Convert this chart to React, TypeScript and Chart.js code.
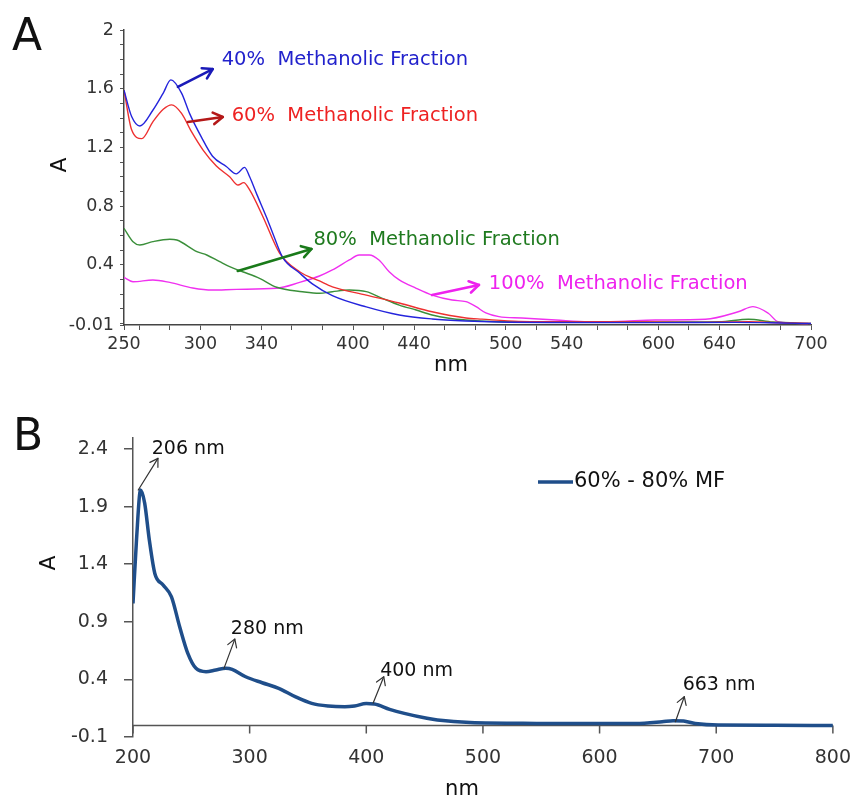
import React, { useEffect, useRef } from 'react';
import { Chart, registerables } from 'chart.js';

Chart.register(...registerables);

const FONT = '"DejaVu Sans", sans-serif';

// ---------- Panel A data ----------
const nm40 = [250, 255, 260.4, 269, 275.7, 280.7, 287.7, 293, 300.7, 308, 317, 323.6, 329, 332.3, 337, 343.2, 348, 353.8, 365, 373.4, 386.5, 408.7, 430.3, 451.8, 474, 495.6, 540, 600, 650, 680, 700];
const abs40 = [1.59, 1.41, 1.346, 1.455, 1.57, 1.66, 1.57, 1.43, 1.27, 1.14, 1.07, 1.02, 1.064, 1.0, 0.88, 0.728, 0.6, 0.453, 0.344, 0.27, 0.19, 0.113, 0.058, 0.031, 0.017, 0.01, 0.007, 0.006, 0.008, 0.004, 0.0];

const nm60 = [250, 255, 261.6, 269, 275.7, 281.2, 287.7, 294.2, 301.8, 310.5, 319.2, 324.7, 328.4, 332.3, 341, 351.9, 365, 378, 386.5, 408.7, 430.3, 451.8, 474, 484.5, 508.6, 561, 626, 659, 667, 680, 700];
const abs60 = [1.59, 1.32, 1.26, 1.376, 1.46, 1.49, 1.432, 1.307, 1.182, 1.073, 1.0, 0.944, 0.96, 0.91, 0.728, 0.48, 0.353, 0.29, 0.25, 0.194, 0.14, 0.08, 0.038, 0.03, 0.015, 0.012, 0.008, 0.012, 0.01, 0.005, 0.0];

const nm80 = [250, 255.9, 260.4, 268.9, 280, 284.6, 297.7, 304.2, 312.7, 319.2, 327.7, 338.8, 350, 366.9, 378, 386.5, 397.6, 408.7, 419.2, 430.3, 441.4, 451.8, 462.9, 474, 495.6, 540, 600, 640, 659, 675, 700];
const abs80 = [0.649, 0.558, 0.535, 0.558, 0.574, 0.569, 0.49, 0.467, 0.421, 0.387, 0.353, 0.308, 0.247, 0.217, 0.206, 0.217, 0.228, 0.217, 0.172, 0.126, 0.092, 0.058, 0.036, 0.024, 0.012, 0.01, 0.01, 0.012, 0.029, 0.01, 0.0];

const nm100 = [250, 255.9, 268.9, 280, 295, 308, 323.8, 350, 365, 378, 386.5, 397.6, 404, 410.7, 417, 423.7, 430.3, 441.4, 451.8, 464.9, 474, 480.6, 487, 495.6, 510.6, 532.8, 554.4, 574, 598, 630.8, 652.3, 662, 672, 678.5, 698];
const abs100 = [0.315, 0.285, 0.297, 0.28, 0.242, 0.228, 0.233, 0.24, 0.28, 0.324, 0.365, 0.433, 0.467, 0.467, 0.433, 0.353, 0.297, 0.24, 0.194, 0.16, 0.149, 0.115, 0.072, 0.047, 0.038, 0.024, 0.012, 0.015, 0.024, 0.029, 0.08, 0.115, 0.07, 0.012, 0.0];

const seriesNamesA = ['40%  Methanolic Fraction', '60%  Methanolic Fraction', '80%  Methanolic Fraction', '100%  Methanolic Fraction'];
const xLabelsA = [250, 300, 340, 400, 440, 500, 540, 600, 640, 700];
const xMinorA = [260, 280, 300, 320, 340, 360, 380, 400, 420, 440, 460, 480, 500, 520, 540, 560, 580, 600, 620, 640, 660, 680];
const yLabelsA = [-0.01, 0.4, 0.8, 1.2, 1.6, 2];

// ---------- Panel B data ----------
const nmB = [200, 203, 206.5, 210, 214, 218.7, 225.8, 232.9, 240, 247, 254, 262.6, 271, 279.6, 285, 296.6, 310.7, 324.9, 339, 353.2, 367.4, 381.6, 390, 400, 407, 420, 432.6, 452, 461, 489, 546, 600, 631, 653.6, 663, 672, 682, 701.7, 750, 800];
const absB = [1.06, 1.61, 2.044, 1.93, 1.61, 1.32, 1.22, 1.118, 0.857, 0.626, 0.496, 0.467, 0.482, 0.496, 0.487, 0.423, 0.371, 0.323, 0.25, 0.192, 0.169, 0.163, 0.17, 0.19, 0.186, 0.14, 0.105, 0.062, 0.047, 0.025, 0.018, 0.017, 0.018, 0.033, 0.042, 0.038, 0.018, 0.004, 0.002, 0.0];
const seriesNameB = '60% - 80% MF';
const peakLabelsB = ['206 nm', '280 nm', '400 nm', '663 nm'];
const xTicksB = [200, 300, 400, 500, 600, 700, 800];
const yTicksB = [-0.1, 0.4, 0.9, 1.4, 1.9, 2.4];

// ---------- styles / annotation anchors (data space) ----------
const lineColorsA = ['#2424dc', '#ee3030', '#3a8f3a', '#f030f0'];
const textColorsA = ['#2222cc', '#ee2222', '#1f7a1f', '#ee22ee'];
const arrowColorsA = ['#1a1ab8', '#b41818', '#1a7a1a', '#ee22ee'];
const annA = [
  { from: [285.3, 1.612], to: [308.1, 1.734], text: [314, 1.796] },
  { from: [291.8, 1.373], to: [314.7, 1.407], text: [320.5, 1.414] },
  { from: [324.5, 0.358], to: [372.8, 0.508], text: [374.1, 0.569] },
  { from: [451.8, 0.194], to: [482.5, 0.263], text: [489, 0.269] },
];
const annB = [
  { from: [204.5, 2.044], to: [221.4, 2.319], text: [216.1, 2.4] },
  { from: [278, 0.496], to: [287.3, 0.75], text: [283.9, 0.837] },
  { from: [405.9, 0.195], to: [415, 0.423], text: [411.9, 0.473] },
  { from: [665, 0.033], to: [672.6, 0.25], text: [671.2, 0.351] },
];

const W = 861;
const HA = 395;
const HB = 408;

function drawArrow(ctx: CanvasRenderingContext2D, x1: number, y1: number, x2: number, y2: number, color: string, width: number, head: number) {
  ctx.save();
  ctx.strokeStyle = color;
  ctx.lineWidth = width;
  ctx.lineCap = 'round';
  ctx.lineJoin = 'round';
  ctx.beginPath();
  ctx.moveTo(x1, y1);
  ctx.lineTo(x2, y2);
  ctx.stroke();
  const ang = Math.atan2(y2 - y1, x2 - x1);
  ctx.beginPath();
  ctx.moveTo(x2 - head * Math.cos(ang - 0.55), y2 - head * Math.sin(ang - 0.55));
  ctx.lineTo(x2, y2);
  ctx.lineTo(x2 - head * Math.cos(ang + 0.55), y2 - head * Math.sin(ang + 0.55));
  ctx.stroke();
  ctx.restore();
}

function near(list: number[], v: number) {
  return list.some((t) => Math.abs(t - v) < 1e-6);
}

function toPts(xs: number[], ys: number[]) {
  return xs.map((x, i) => ({ x, y: ys[i] }));
}

const panelAPlugin = {
  id: 'panelA',
  afterDraw(chart: any) {
    const { ctx } = chart;
    const xs = chart.scales.x;
    const ys = chart.scales.y;
    ctx.save();
    annA.forEach((a, i) => {
      drawArrow(ctx, xs.getPixelForValue(a.from[0]), ys.getPixelForValue(a.from[1]), xs.getPixelForValue(a.to[0]), ys.getPixelForValue(a.to[1]), arrowColorsA[i], 2.6, 11);
      ctx.fillStyle = textColorsA[i];
      ctx.font = `19.5px ${FONT}`;
      ctx.textAlign = 'left';
      ctx.textBaseline = 'middle';
      ctx.fillText(chart.data.datasets[i].label, xs.getPixelForValue(a.text[0]), ys.getPixelForValue(a.text[1]));
    });
    ctx.fillStyle = '#111';
    ctx.font = `44px ${FONT}`;
    ctx.textAlign = 'center';
    ctx.textBaseline = 'middle';
    ctx.fillText('A', 27, 39);
    ctx.font = `21px ${FONT}`;
    ctx.fillText('nm', 451, 366);
    ctx.translate(60, 165);
    ctx.rotate(-Math.PI / 2);
    ctx.font = `22px ${FONT}`;
    ctx.fillText('A', 0, 0);
    ctx.restore();
  },
};

const panelBPlugin = {
  id: 'panelB',
  beforeDatasetsDraw(chart: any) {
    const { ctx, chartArea } = chart;
    const xs = chart.scales.x;
    const ys = chart.scales.y;
    const y0 = ys.getPixelForValue(0);
    ctx.save();
    ctx.strokeStyle = '#555';
    ctx.lineWidth = 1.5;
    ctx.beginPath();
    ctx.moveTo(chartArea.left, y0);
    ctx.lineTo(chartArea.right, y0);
    xTicksB.forEach((v) => {
      const px = xs.getPixelForValue(v);
      ctx.moveTo(px, y0);
      ctx.lineTo(px, y0 + 8);
    });
    ctx.stroke();
    ctx.restore();
  },
  afterDraw(chart: any) {
    const { ctx } = chart;
    const xs = chart.scales.x;
    const ys = chart.scales.y;
    ctx.save();
    annB.forEach((a, i) => {
      drawArrow(ctx, xs.getPixelForValue(a.from[0]), ys.getPixelForValue(a.from[1]), xs.getPixelForValue(a.to[0]), ys.getPixelForValue(a.to[1]), '#333', 1.2, 9);
      ctx.fillStyle = '#111';
      ctx.font = `19px ${FONT}`;
      ctx.textAlign = 'left';
      ctx.textBaseline = 'middle';
      ctx.fillText(peakLabelsB[i], xs.getPixelForValue(a.text[0]), ys.getPixelForValue(a.text[1]));
    });
    // legend
    const ds = chart.data.datasets[0];
    ctx.strokeStyle = ds.borderColor;
    ctx.lineWidth = 3.5;
    ctx.beginPath();
    ctx.moveTo(538, 87);
    ctx.lineTo(573, 87);
    ctx.stroke();
    ctx.fillStyle = '#111';
    ctx.font = `21px ${FONT}`;
    ctx.textAlign = 'left';
    ctx.textBaseline = 'middle';
    ctx.fillText(ds.label, 574, 87);
    // panel letter and titles
    ctx.font = `44px ${FONT}`;
    ctx.textAlign = 'center';
    ctx.fillText('B', 28, 44);
    ctx.font = `21px ${FONT}`;
    ctx.fillText('nm', 462, 395);
    ctx.translate(49, 168);
    ctx.rotate(-Math.PI / 2);
    ctx.font = `22px ${FONT}`;
    ctx.fillText('A', 0, 0);
    ctx.restore();
  },
};

export default function App() {
  const refA = useRef<HTMLCanvasElement>(null);
  const refB = useRef<HTMLCanvasElement>(null);

  useEffect(() => {
    const xAllA = Array.from(new Set([...xLabelsA, ...xMinorA])).sort((a, b) => a - b);
    const yAllA: number[] = [-0.01];
    for (let k = 0; k <= 20; k++) yAllA.push(Math.round(k * 10) / 100);

    const seriesA = [
      toPts(nm40, abs40),
      toPts(nm60, abs60),
      toPts(nm80, abs80),
      toPts(nm100, abs100),
    ];

    const chartA = new Chart(refA.current!, {
      type: 'line',
      data: {
        datasets: seriesA.map((d, i) => ({
          label: seriesNamesA[i],
          data: d,
          borderColor: lineColorsA[i],
          borderWidth: 1.4,
          pointRadius: 0,
          tension: 0.3,
          cubicInterpolationMode: 'monotone' as const,
        })),
      },
      options: {
        animation: false,
        responsive: false,
        layout: { padding: { left: 0, right: 50, top: 30, bottom: 0 } },
        plugins: { legend: { display: false }, tooltip: { enabled: false } },
        scales: {
          x: {
            type: 'linear',
            min: 250,
            max: 700,
            afterBuildTicks: (s: any) => {
              s.ticks = xAllA.map((v) => ({ value: v }));
            },
            afterFit: (s: any) => {
              s.height = HA - 325;
            },
            ticks: {
              autoSkip: false,
              maxRotation: 0,
              padding: 4,
              color: '#333',
              font: { family: FONT, size: 17.5 },
              callback: (v: any) => (near(xLabelsA, Number(v)) ? String(v) : ''),
            },
            grid: { drawOnChartArea: false, drawTicks: true, tickLength: 5, color: '#555' },
            border: { color: '#444', width: 1.5 },
          },
          y: {
            type: 'linear',
            min: -0.01,
            max: 2,
            afterBuildTicks: (s: any) => {
              s.ticks = yAllA.map((v) => ({ value: v }));
            },
            afterFit: (s: any) => {
              s.width = 124;
            },
            ticks: {
              autoSkip: false,
              padding: 6,
              color: '#333',
              font: { family: FONT, size: 17.5 },
              callback: (v: any) => (near(yLabelsA, Number(v)) ? String(v) : ''),
            },
            grid: { drawOnChartArea: false, drawTicks: true, tickLength: 4, color: '#555' },
            border: { color: '#444', width: 1.5 },
          },
        },
      } as any,
      plugins: [panelAPlugin],
    });

    const chartB = new Chart(refB.current!, {
      type: 'line',
      data: {
        datasets: [
          {
            label: seriesNameB,
            data: toPts(nmB, absB),
            borderColor: '#1f4e8a',
            borderWidth: 3.5,
            pointRadius: 0,
            cubicInterpolationMode: 'monotone' as const,
          },
        ],
      },
      options: {
        animation: false,
        responsive: false,
        layout: { padding: { left: 0, right: 20, top: 42.5, bottom: 0 } },
        plugins: { legend: { display: false }, tooltip: { enabled: false } },
        scales: {
          x: {
            type: 'linear',
            min: 200,
            max: 800,
            afterBuildTicks: (s: any) => {
              s.ticks = xTicksB.map((v) => ({ value: v }));
            },
            afterFit: (s: any) => {
              s.height = HB - 342;
            },
            ticks: {
              autoSkip: false,
              maxRotation: 0,
              padding: 10,
              color: '#333',
              font: { family: FONT, size: 19 },
            },
            grid: { display: false, drawTicks: false },
            border: { display: false },
          },
          y: {
            type: 'linear',
            min: -0.1,
            max: 2.5,
            afterBuildTicks: (s: any) => {
              s.ticks = yTicksB.map((v) => ({ value: v }));
            },
            afterFit: (s: any) => {
              s.width = 133;
            },
            ticks: {
              autoSkip: false,
              padding: 16,
              color: '#333',
              font: { family: FONT, size: 19 },
              callback: (v: any) => String(Math.round(Number(v) * 10) / 10),
            },
            grid: { drawOnChartArea: false, drawTicks: true, tickLength: 9, color: '#555', lineWidth: 1.5 },
            border: { color: '#555', width: 1.5 },
          },
        },
      } as any,
      plugins: [panelBPlugin],
    });

    return () => {
      chartA.destroy();
      chartB.destroy();
    };
  }, []);

  return (
    <div style={{ position: 'absolute', left: 0, top: 0, width: W, height: HA + HB, background: '#fff' }}>
      <canvas ref={refA} width={W} height={HA} style={{ position: 'absolute', left: 0, top: 0, width: W, height: HA }} />
      <canvas ref={refB} width={W} height={HB} style={{ position: 'absolute', left: 0, top: HA, width: W, height: HB }} />
    </div>
  );
}
